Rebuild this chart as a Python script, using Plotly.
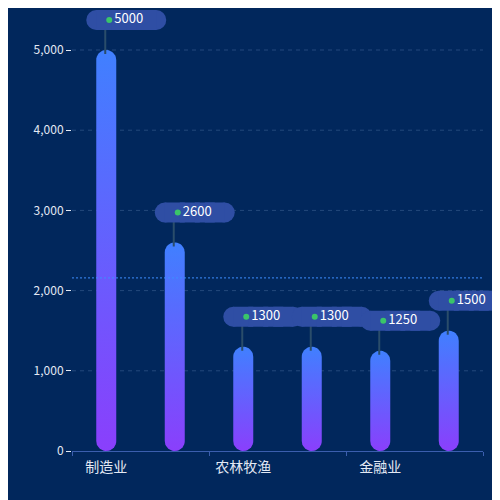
import numpy as np
import plotly.graph_objects as go

# x labels: only every other category label is shown on the original axis
categories = ["制造业", "", "农林牧渔", "", "金融业", ""]
values = [5000, 2600, 1300, 1300, 1250, 1500]
y_ticks = [0, 1000, 2000, 3000, 4000, 5000]

BG = "#01275c"
BAR_TOP = "#4080ff"
BAR_BOTTOM = "#8a3ffc"
BUBBLE = "#2f4ea4"
DOT = "#3ac569"
STEM = "#2a4d6a"
AXIS = "#3b5eae"
TEXT = "#e3e9f4"

# pixel layout: the axes run a bit past the last category and above 5000
# so that the value bubbles stay inside the plotting area
L, R, T, B = 64, 0, 0, 57
PW, PH = 500 - L - R, 500 - T - B
n = len(values)
CAT_PX = 68.5                      # pixels per category
VAL_PX = 401 / y_ticks[-1]         # pixels per value unit
px_x = 1 / CAT_PX
px_y = 1 / VAL_PX
x_range = [-0.5, -0.5 + PW / CAT_PX]
y_range = [0, PH / VAL_PX]

fig = go.Figure()
xs = list(range(n))

# dashed grid lines, only across the category span
gx, gy = [], []
for t in y_ticks[1:]:
    gx += [-0.5, n - 0.5, None]
    gy += [t, t, None]
fig.add_trace(go.Scatter(
    x=gx, y=gy, mode="lines",
    line=dict(color="#24497c", width=1, dash="4px,4px"),
    hoverinfo="skip", showlegend=False,
))

# rounded bars with a vertical gradient
hw = 10 * px_x
ry = 10 * px_y
t_top = np.linspace(0, np.pi, 20)
t_bot = np.linspace(np.pi, 2 * np.pi, 20)
for i, v in zip(xs, values):
    bx = np.concatenate([i + hw * np.cos(t_top), i + hw * np.cos(t_bot)])
    by = np.concatenate([v - ry + ry * np.sin(t_top), ry + ry * np.sin(t_bot)])
    fig.add_trace(go.Scatter(
        x=bx, y=by, mode="lines", fill="toself", line=dict(width=0),
        fillgradient=dict(type="vertical",
                          colorscale=[[0, BAR_BOTTOM], [1, BAR_TOP]]),
        hoverinfo="skip", showlegend=False,
    ))

# average line
avg = float(np.mean(values))
fig.add_trace(go.Scatter(
    x=[-0.5, n - 0.5], y=[avg, avg], mode="lines",
    line=dict(color="#3d8eff", width=1, dash="2px,2px"),
    hoverinfo="skip", showlegend=False,
))

# value bubbles: stem, rounded box, green dot and number
for i, v in zip(xs, values):
    fig.add_trace(go.Scatter(
        x=[i - 1 * px_x], y=[v + 10 * px_y], mode="markers",
        marker=dict(symbol="line-ns", size=20, line=dict(color=STEM, width=2)),
        cliponaxis=False, hoverinfo="skip", showlegend=False,
    ))
    offs = [-10, 50, 0, 15, 30, 40]
    syms = ["circle", "circle", "square", "square", "square", "square"]
    fig.add_trace(go.Scatter(
        x=[i + o * px_x for o in offs], y=[v + 30 * px_y] * len(offs),
        mode="markers",
        marker=dict(symbol=syms, size=20, color=BUBBLE, line=dict(width=0)),
        cliponaxis=False, hoverinfo="skip", showlegend=False,
    ))
    fig.add_trace(go.Scatter(
        x=[i + 3 * px_x], y=[v + 30 * px_y], mode="markers",
        marker=dict(symbol="circle", size=6, color=DOT, line=dict(width=0)),
        cliponaxis=False, hoverinfo="skip", showlegend=False,
    ))
    fig.add_trace(go.Scatter(
        x=[i + 8 * px_x], y=[v + 30 * px_y], mode="text",
        text=[str(v)], textposition="middle right",
        textfont=dict(color="#ffffff", size=13),
        cliponaxis=False, hoverinfo="skip", showlegend=False,
    ))

# second x axis only for the axis line and the tick marks between pairs
fig.add_trace(go.Scatter(
    x=[-0.5, n - 0.5], y=[0, 0], xaxis="x2", mode="markers",
    marker=dict(opacity=0), hoverinfo="skip", showlegend=False,
))

fig.update_layout(
    width=500, height=500,
    margin=dict(l=L, r=R, t=T, b=B),
    paper_bgcolor=BG, plot_bgcolor="rgba(0,0,0,0)",
    font=dict(family="Noto Sans CJK SC, Noto Sans, sans-serif", color=TEXT),
    xaxis=dict(
        range=x_range, tickvals=xs, ticktext=categories,
        showgrid=False, zeroline=False, showline=False,
        ticks="outside", ticklen=3, tickcolor="rgba(0,0,0,0)",
        tickfont=dict(size=14, color=TEXT),
    ),
    xaxis2=dict(
        domain=[0, n * CAT_PX / PW], anchor="y", range=[-0.5, n - 0.5],
        tickvals=[-0.5, 1.5, 3.5, 5.5], showticklabels=False,
        ticks="outside", ticklen=4, tickcolor=AXIS,
        showline=True, linecolor=AXIS, linewidth=1,
        showgrid=False, zeroline=False,
    ),
    yaxis=dict(
        range=y_range, tickvals=y_ticks, tickformat=",",
        showgrid=False, zeroline=False, showline=False,
        ticks="outside", ticklen=5, tickcolor=TEXT,
        tickfont=dict(size=12, color=TEXT),
    ),
    showlegend=False,
)

fig.write_html("out.html")
